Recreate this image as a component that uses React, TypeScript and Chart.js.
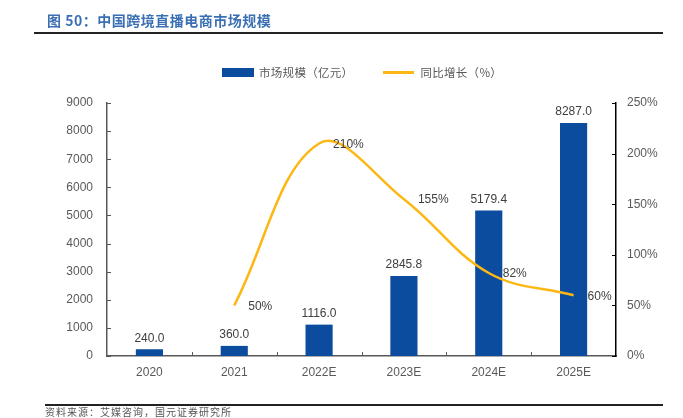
import React, { useEffect, useRef } from "react";
import { Chart, registerables } from "chart.js";

Chart.register(...registerables);

const categories = ["2020", "2021", "2022E", "2023E", "2024E", "2025E"];
const marketSize = [240.0, 360.0, 1116.0, 2845.8, 5179.4, 8287.0];
const growth = [null, 50, 210, 155, 82, 60];
const leftTicks = [0, 1000, 2000, 3000, 4000, 5000, 6000, 7000, 8000, 9000];
const rightTicks = [0, 50, 100, 150, 200, 250];

const FONT = "'Liberation Sans', Arial, sans-serif";
const CJK = "'Noto Sans CJK SC', 'Liberation Sans', sans-serif";
const BAR = "#0b4c9f";
const LINE = "#fdb714";

const decor = {
  id: "decor",
  afterDatasetsDraw(chart: any) {
    const ctx = chart.ctx;
    const { left, right, bottom } = chart.chartArea;
    const y = chart.scales.y;
    const y2 = chart.scales.y2;
    const x = chart.scales.x;
    ctx.save();
    ctx.lineWidth = 1;
    ctx.strokeStyle = "#595959";
    leftTicks.forEach((v) => {
      const py = Math.round(y.getPixelForValue(v)) + 0.5;
      ctx.beginPath();
      ctx.moveTo(left, py);
      ctx.lineTo(left + 4, py);
      ctx.stroke();
    });
    ctx.strokeStyle = "#000";
    rightTicks.forEach((v) => {
      const py = Math.round(y2.getPixelForValue(v)) + 0.5;
      ctx.beginPath();
      ctx.moveTo(right - 4, py);
      ctx.lineTo(right, py);
      ctx.stroke();
    });
    ctx.strokeStyle = "#595959";
    const w = (right - left) / categories.length;
    for (let i = 1; i < categories.length; i++) {
      const px = Math.round(left + w * i) + 0.5;
      ctx.beginPath();
      ctx.moveTo(px, bottom);
      ctx.lineTo(px, bottom - 4);
      ctx.stroke();
    }
    ctx.font = `12px ${FONT}`;
    ctx.fillStyle = "#404040";
    ctx.textAlign = "center";
    ctx.textBaseline = "bottom";
    marketSize.forEach((v, i) => {
      const px = x.getPixelForValue(i);
      const py = y.getPixelForValue(v);
      ctx.fillText(v.toFixed(1), px, py - 5);
    });
    ctx.textAlign = "left";
    ctx.textBaseline = "middle";
    growth.forEach((v, i) => {
      if (v == null) return;
      const px = x.getPixelForValue(i);
      const py = y2.getPixelForValue(v);
      ctx.fillText(v + "%", px + 14, py + 1);
    });
    ctx.restore();
  },
};

export default function App() {
  const ref = useRef<HTMLCanvasElement>(null);
  useEffect(() => {
    const prev = document.body.style.margin;
    document.body.style.margin = "0";
    const chart = new Chart(ref.current as HTMLCanvasElement, {
      type: "bar",
      data: {
        labels: categories,
        datasets: [
          {
            type: "line",
            label: "同比增长（%）",
            data: growth as any,
            yAxisID: "y2",
            borderColor: LINE,
            backgroundColor: LINE,
            borderWidth: 2.5,
            pointRadius: 0,
            tension: 0.38,
            order: 0,
          },
          {
            type: "bar",
            label: "市场规模（亿元）",
            data: marketSize,
            yAxisID: "y",
            backgroundColor: BAR,
            barPercentage: 0.32,
            categoryPercentage: 1,
            order: 1,
          },
        ],
      },
      options: {
        animation: false,
        responsive: false,
        devicePixelRatio: 1,
        layout: { padding: { top: 103, left: 0, right: 0, bottom: 0 } },
        plugins: { legend: { display: false }, tooltip: { enabled: false } },
        scales: {
          x: {
            grid: { display: false, drawTicks: false },
            border: { color: "#595959", width: 1.5 },
            ticks: { color: "#595959", font: { size: 12, family: FONT }, padding: 9 },
            afterFit: (s: any) => {
              s.height = 418 - 356;
            },
          },
          y: {
            position: "left",
            min: 0,
            max: 9000,
            afterBuildTicks: (s: any) => {
              s.ticks = leftTicks.map((v) => ({ value: v }));
            },
            grid: { display: false, drawTicks: false },
            border: { color: "#595959", width: 1.5 },
            ticks: {
              color: "#595959",
              font: { size: 12, family: FONT },
              padding: 14,
              callback: (v: any) => String(v),
            },
            afterFit: (s: any) => {
              s.width = 107;
            },
          },
          y2: {
            position: "right",
            min: 0,
            max: 250,
            afterBuildTicks: (s: any) => {
              s.ticks = rightTicks.map((v) => ({ value: v }));
            },
            grid: { display: false, drawTicks: false },
            border: { color: "#000", width: 1.5 },
            ticks: {
              color: "#595959",
              font: { size: 12, family: FONT },
              padding: 11,
              callback: (v: any) => v + "%",
            },
            afterFit: (s: any) => {
              s.width = 683 - 616;
            },
          },
        },
      },
      plugins: [decor],
    });
    return () => {
      chart.destroy();
      document.body.style.margin = prev;
    };
  }, []);

  return (
    <div style={{ position: "relative", width: 683, height: 418, overflow: "hidden", background: "#fff" }}>
      <canvas ref={ref} width={683} height={418} style={{ position: "absolute", left: 0, top: 0 }} />
      <div
        style={{
          position: "absolute",
          left: 47,
          top: 10,
          fontFamily: CJK,
          fontWeight: 700,
          fontSize: 14,
          color: "#3a70b3",
          lineHeight: "20px",
          letterSpacing: 0.5,
          whiteSpace: "nowrap",
        }}
      >
        图 50：中国跨境直播电商市场规模
      </div>
      <div style={{ position: "absolute", left: 34, top: 32, width: 629, height: 2, background: "#222" }} />
      <div
        style={{
          position: "absolute",
          left: 222,
          top: 63,
          display: "flex",
          alignItems: "center",
          fontFamily: CJK,
          fontSize: 11.5,
          color: "#595959",
          whiteSpace: "nowrap",
          lineHeight: "18px",
          letterSpacing: 0.3,
        }}
      >
        <span style={{ display: "inline-block", width: 32, height: 9, background: BAR, marginRight: 5 }} />
        <span>市场规模（亿元）</span>
        <span style={{ display: "inline-block", width: 31, height: 3, background: LINE, marginLeft: 30, marginRight: 6 }} />
        <span>同比增长（%）</span>
      </div>
      <div style={{ position: "absolute", left: 45, top: 404, width: 618, height: 2, background: "#222" }} />
      <div
        style={{
          position: "absolute",
          left: 45,
          top: 405,
          fontFamily: CJK,
          fontSize: 10,
          color: "#555",
          lineHeight: "14px",
          letterSpacing: 1,
          whiteSpace: "nowrap",
        }}
      >
        资料来源：艾媒咨询，国元证券研究所
      </div>
    </div>
  );
}
